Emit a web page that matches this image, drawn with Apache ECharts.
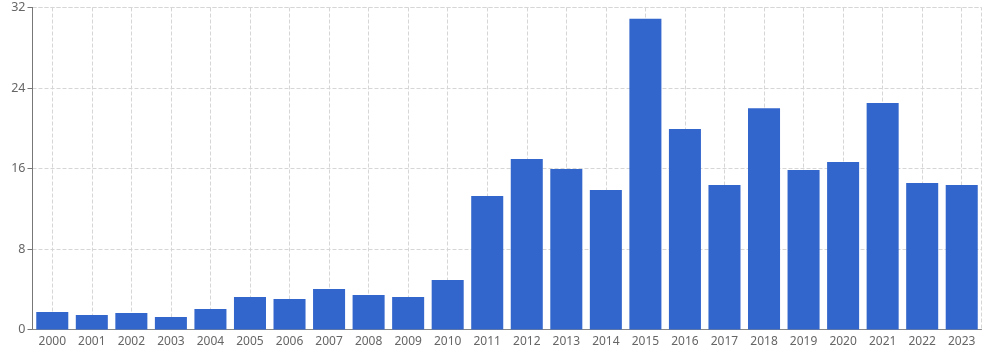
<!DOCTYPE html>
<html><head><meta charset="utf-8">
<script src="https://cdn.jsdelivr.net/npm/echarts@6/dist/echarts.min.js"></script>
<style>html,body{margin:0;padding:0;background:#fff}#c{width:996px;height:359px}</style>
</head><body><div id="c"></div>
<script>
const categories = ["2000","2001","2002","2003","2004","2005","2006","2007","2008","2009","2010","2011","2012","2013","2014","2015","2016","2017","2018","2019","2020","2021","2022","2023"];
const values = [1.74,1.44,1.64,1.24,2.04,3.23,3.03,4.03,3.43,3.23,4.92,13.27,16.95,15.95,13.87,30.87,19.93,14.36,22.0,15.86,16.65,22.5,14.56,14.36];
const yTicks = {min:0, max:32, interval:8};

const chart = echarts.init(document.getElementById('c'));
chart.setOption({
  animation:false,
  grid:{left:32.5,right:14.5,top:7.5,bottom:29.5,show:true,borderColor:'#d6d6d6',borderWidth:1,borderType:'dashed'},
  xAxis:{type:'category',data:categories,
    axisLine:{lineStyle:{color:'#888'}},
    axisTick:{alignWithLabel:true,lineStyle:{color:'#888'}},
    axisLabel:{color:'#666',fontSize:12,fontFamily:'Noto Sans',margin:6},
    splitLine:{show:true,alignWithLabel:true,lineStyle:{color:'#d6d6d6',type:'dashed'}}},
  yAxis:{type:'value',min:yTicks.min,max:yTicks.max,interval:yTicks.interval,
    axisLine:{show:true,lineStyle:{color:'#777'}},
    axisTick:{show:true,lineStyle:{color:'#777'}},
    axisLabel:{color:'#666',fontSize:12.5,fontFamily:'Noto Sans',margin:7},
    splitLine:{lineStyle:{color:'#d6d6d6',type:'dashed'}}},
  series:[{type:'bar',data:values,barCategoryGap:'19%',itemStyle:{color:'#3366cc'}}]
});
</script></body></html>
